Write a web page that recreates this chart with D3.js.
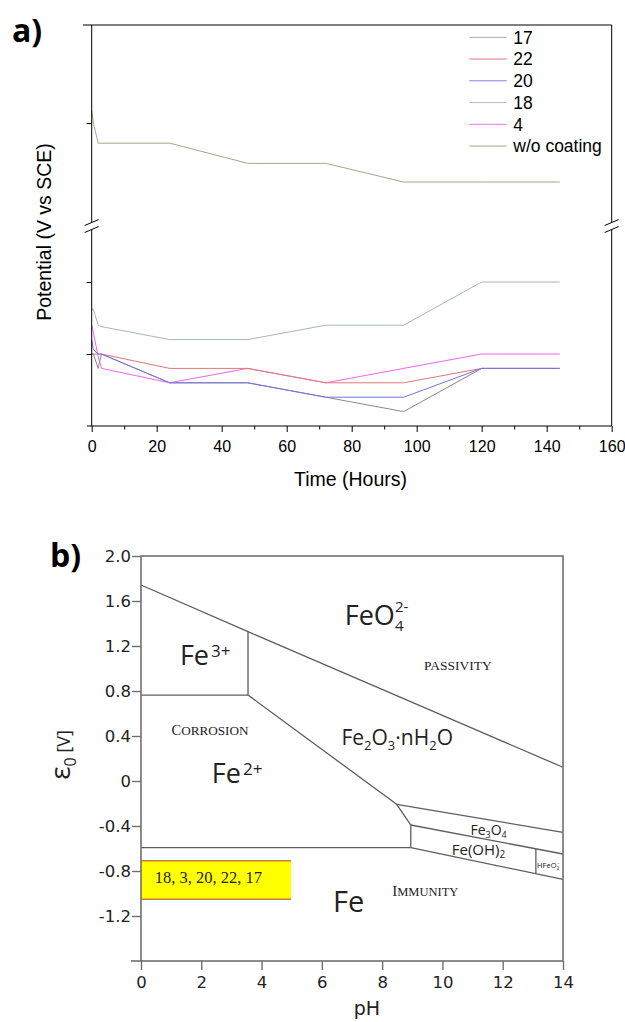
<!DOCTYPE html>
<html><head><meta charset="utf-8">
<script src="https://cdn.jsdelivr.net/npm/d3@7"></script>
<style>body{margin:0;background:#fff} svg{display:block}</style>
</head><body>
<svg id="c" width="625" height="1022"></svg>
<script>
// ---------- Chart a) data ----------
const hours = [0, 0.5, 2, 3, 24, 48, 72, 96, 120, 144];
const seriesNames = ["17", "22", "20", "18", "4", "w/o coating"];
const series17 = [-0.700, -0.700, -0.710, -0.700, -0.720, -0.720, -0.730, -0.740, -0.710, -0.710];
const series22 = [-0.700, -0.700, -0.700, -0.700, -0.710, -0.710, -0.720, -0.720, -0.710, -0.710];
const series20 = [-0.690, -0.697, -0.700, -0.700, -0.720, -0.720, -0.730, -0.730, -0.710, -0.710];
const series18 = [-0.669, -0.669, -0.680, -0.681, -0.690, -0.690, -0.680, -0.680, -0.650, -0.650];
const series4  = [-0.680, -0.685, -0.702, -0.710, -0.720, -0.710, -0.720, -0.710, -0.700, -0.700];
const seriesUncoated = [-0.391, -0.400, -0.414, -0.414, -0.414, -0.428, -0.428, -0.441, -0.441, -0.441];
const xTicksA = [0, 20, 40, 60, 80, 100, 120, 140, 160];
const xMinorTicksA = [10, 30, 50, 70, 90, 110, 130, 150];
const yTicksLow = [-0.70, -0.65];
const yTicksHigh = [-0.40];

// ---------- Chart b) data ----------
const pHTicks = [0, 2, 4, 6, 8, 10, 12, 14];
const eTicks = [-1.2, -0.8, -0.4, 0, 0.4, 0.8, 1.2, 1.6, 2.0];
const eTickLabels = ["-1.2", "-0.8", "-0.4", "0", "0.4", "0.8", "1.2", "1.6", "2.0"];
const lineO2 = [[0, 1.742], [3.55, 1.327], [8.5, 0.756], [14, 0.122]];
const lineFe3Fe2 = [[0, 0.764], [3.55, 0.764]];
const lineFe3Vert = [[3.55, 0.764], [3.55, 1.327]];
const lineFe2Oxide = [[3.55, 0.764], [8.48, -0.207], [8.95, -0.391], [8.95, -0.593]];
const lineFeImm = [[0, -0.593], [8.95, -0.593]];
const lineOxMag = [[8.48, -0.207], [14, -0.456]];
const lineMagHyd = [[8.95, -0.391], [14, -0.649]];
const lineHydFe = [[8.95, -0.593], [14, -0.874]];
const lineHFeO2 = [[13.1, -0.604], [13.1, -0.822]];
const coatingBand = {pH: [0, 4.98], E: [-0.708, -1.052], label: "18, 3, 20, 22, 17"};

const svg = d3.select("#c");

// ================= Chart a =================
const xA = d3.scaleLinear().domain([0, 160]).range([91.7, 611.7]);
const yLow = d3.scaleLinear().domain([-0.75, -0.65]).range([426, 282]);
const yHigh = d3.scaleLinear().domain([-0.40, -0.45]).range([123, 195]);
const fA = "'Liberation Sans', Arial, sans-serif";
const gA = svg.append("g");

const seriesData = {
  "17": {v: series17, c: "#8a8a8a", y: yLow},
  "22": {v: series22, c: "#e07878", y: yLow},
  "20": {v: series20, c: "#7474e4", y: yLow},
  "18": {v: series18, c: "#a6b8b0", y: yLow},
  "4": {v: series4, c: "#ee66ee", y: yLow},
  "w/o coating": {v: seriesUncoated, c: "#a8a488", y: yHigh}
};
const legendColors = {"17": "#a8a8a8", "22": "#e07878", "20": "#8080e8", "18": "#bdbdbd", "4": "#ee77ee", "w/o coating": "#a8a488"};
const drawOrder = ["w/o coating", "17", "18", "4", "22", "20"];
drawOrder.forEach(name => {
  const s = seriesData[name];
  const line = d3.line().x((d, i) => xA(hours[i])).y(d => s.y(d));
  gA.append("path").attr("d", line(s.v)).attr("fill", "none")
    .attr("stroke", s.c).attr("stroke-width", 1);
});

// frame
const yTopA = 25, yBotA = 426, yBreak = 226, gap = 3.5;
gA.append("line").attr("x1", 83).attr("x2", xA(160)).attr("y1", yTopA).attr("y2", yTopA).attr("stroke", "#000");
[xA(0), xA(160)].forEach(x => {
  gA.append("line").attr("x1", x).attr("x2", x).attr("y1", yTopA).attr("y2", yBreak - gap).attr("stroke", "#000");
  gA.append("line").attr("x1", x).attr("x2", x).attr("y1", yBreak + gap).attr("y2", yBotA).attr("stroke", "#000");
  [-gap, gap].forEach(dy => {
    gA.append("line").attr("x1", x - 7).attr("x2", x + 7)
      .attr("y1", yBreak + dy + 3).attr("y2", yBreak + dy - 3).attr("stroke", "#000");
  });
});
gA.append("line").attr("x1", 87).attr("x2", xA(160)).attr("y1", yBotA).attr("y2", yBotA).attr("stroke", "#000");

// x axis
const axA = gA.append("g").attr("transform", `translate(0,${yBotA})`)
  .call(d3.axisBottom(xA).tickValues(xTicksA).tickSize(6).tickPadding(8.5).tickSizeOuter(0));
axA.select(".domain").remove();
axA.selectAll("text").attr("font-family", fA).attr("font-size", 16).attr("fill", "#000");
const axAm = gA.append("g").attr("transform", `translate(0,${yBotA})`)
  .call(d3.axisBottom(xA).tickValues(xMinorTicksA).tickSize(3.5).tickFormat(""));
axAm.select(".domain").remove();

// y ticks
[[yLow, yTicksLow], [yHigh, yTicksHigh]].forEach(([sc, tv]) => {
  const g = gA.append("g").attr("transform", `translate(${xA(0)},0)`)
    .call(d3.axisLeft(sc).tickValues(tv).tickSize(5).tickFormat(""));
  g.select(".domain").remove();
});

// titles
gA.append("text").attr("transform", `translate(51,232) rotate(-90)`)
  .attr("text-anchor", "middle").attr("font-family", fA).attr("font-size", 19.5)
  .text("Potential (V vs SCE)");
gA.append("text").attr("x", 350.5).attr("y", 485.5).attr("text-anchor", "middle")
  .attr("font-family", fA).attr("font-size", 19.5).text("Time (Hours)");
svg.append("text").attr("x", 12).attr("y", 42).attr("font-family", "'Open Sans', sans-serif")
  .attr("font-weight", "bold").attr("font-size", 32).text("a)");

// legend
seriesNames.forEach((name, i) => {
  const y = 37.3 + i * 21.75;
  gA.append("line").attr("x1", 469.3).attr("x2", 506.7).attr("y1", y).attr("y2", y)
    .attr("stroke", legendColors[name]).attr("stroke-width", 1);
  gA.append("text").attr("x", 513.3).attr("y", y + 6.2).attr("font-family", fA)
    .attr("font-size", 17.5).text(name);
});

// ================= Chart b =================
const xB = d3.scaleLinear().domain([0, 14]).range([141, 563]);
const yB = d3.scaleLinear().domain([-1.6, 2.0]).range([961, 556]);
const fB = "'Open Sans', 'Noto Sans', sans-serif";
const fT = "'Liberation Serif', 'Times New Roman', serif";
const gB = svg.append("g");
const axisCol = "#707070";

// coating band
gB.append("rect").attr("x", xB(coatingBand.pH[0])).attr("y", yB(coatingBand.E[0]))
  .attr("width", xB(coatingBand.pH[1]) - xB(coatingBand.pH[0]))
  .attr("height", yB(coatingBand.E[1]) - yB(coatingBand.E[0])).attr("fill", "#ffff00");
coatingBand.E.forEach(e => {
  gB.append("line").attr("x1", xB(coatingBand.pH[0])).attr("x2", xB(coatingBand.pH[1]))
    .attr("y1", yB(e)).attr("y2", yB(e)).attr("stroke", "#d07a3c").attr("stroke-width", 1.5);
});
gB.append("text").attr("x", xB(0.46)).attr("y", yB(-0.904)).attr("font-family", fT)
  .attr("font-size", 16.5).attr("fill", "#222").text(coatingBand.label);

// boundary lines
const lineB = d3.line().x(d => xB(d[0])).y(d => yB(d[1]));
[lineO2, lineFe3Fe2, lineFe3Vert, lineFe2Oxide, lineFeImm, lineOxMag, lineMagHyd, lineHydFe, lineHFeO2]
  .forEach(pts => gB.append("path").attr("d", lineB(pts)).attr("fill", "none")
    .attr("stroke", "#5e5e5e").attr("stroke-width", 1.3));

// frame
gB.append("rect").attr("x", xB(0)).attr("y", yB(2.0)).attr("width", xB(14) - xB(0))
  .attr("height", yB(-1.6) - yB(2.0)).attr("fill", "none").attr("stroke", axisCol).attr("stroke-width", 1.6);
gB.append("line").attr("x1", 131).attr("x2", xB(0)).attr("y1", yB(-1.6)).attr("y2", yB(-1.6))
  .attr("stroke", axisCol).attr("stroke-width", 1.6);

const axBy = gB.append("g").attr("transform", `translate(${xB(0)},0)`)
  .call(d3.axisLeft(yB).tickValues(eTicks).tickSize(9).tickPadding(1)
    .tickFormat((d, i) => eTickLabels[i]));
axBy.select(".domain").remove();
axBy.selectAll("line").attr("stroke", axisCol).attr("stroke-width", 1.4);
axBy.selectAll("text").attr("font-family", "'DejaVu Sans', sans-serif").attr("font-size", 16.5).attr("fill", "#222");

const axBx = gB.append("g").attr("transform", `translate(0,${yB(-1.6)})`)
  .call(d3.axisBottom(xB).tickValues(pHTicks).tickSize(9).tickPadding(6));
axBx.select(".domain").remove();
axBx.selectAll("line").attr("stroke", axisCol).attr("stroke-width", 1.4);
axBx.selectAll("text").attr("font-family", "'DejaVu Sans', sans-serif").attr("font-size", 16.5).attr("fill", "#222");

gB.append("text").attr("x", 367).attr("y", 1015).attr("text-anchor", "middle")
  .attr("font-family", "'DejaVu Sans', sans-serif").attr("font-size", 19).attr("fill", "#222").text("pH");

// y title
const yt = gB.append("text").attr("transform", `translate(70,755) rotate(-90)`)
  .attr("text-anchor", "middle").attr("font-family", fB).attr("fill", "#222");
yt.append("tspan").attr("font-size", 28).text("ε");
yt.append("tspan").attr("font-size", 16).attr("dy", 6).text("0");
yt.append("tspan").attr("font-size", 18).attr("dy", -6).text("  [V]");

svg.append("text").attr("x", 50).attr("y", 567).attr("font-family", "'Open Sans', sans-serif")
  .attr("font-weight", "bold").attr("font-size", 32).text("b)");

// region labels
function chem(x, y, size, parts) {
  const t = gB.append("text").attr("x", xB(x)).attr("y", yB(y)).attr("font-family", fB)
    .attr("font-size", size).attr("fill", "#222");
  parts.forEach(p => {
    const s = t.append("tspan").text(p.t);
    if (p.s) s.attr("font-size", p.s);
    if (p.dy) s.attr("dy", p.dy);
    if (p.dx) s.attr("dx", p.dx);
  });
  return t;
}
chem(6.76, 1.387, 27, [{t: "FeO"}, {t: "4", s: 15, dy: 6}, {t: "2-", s: 15, dy: -19, dx: -8.5}]);
chem(1.29, 1.031, 27, [{t: "Fe"}, {t: "3+", s: 17, dy: -8, dx: 2}]);
chem(2.35, -0.015, 27, [{t: "Fe"}, {t: "2+", s: 17, dy: -8, dx: 2}]);
chem(6.65, 0.32, 21, [{t: "Fe"}, {t: "2", s: 13, dy: 5}, {t: "O", dy: -5}, {t: "3", s: 13, dy: 5}, {t: "·nH", dy: -5}, {t: "2", s: 13, dy: 5}, {t: "O", dy: -5}]);
chem(10.93, -0.48, 14, [{t: "Fe"}, {t: "3", s: 9, dy: 3}, {t: "O", dy: -3}, {t: "4", s: 9, dy: 3}]);
chem(10.31, -0.658, 15, [{t: "Fe(OH)"}, {t: "2", s: 10, dy: 3}]);
chem(13.14, -0.773, 7.5, [{t: "HFeO"}, {t: "2", s: 5, dy: 2}, {t: "-", s: 5, dy: -5, dx: -2}]);
chem(6.37, -1.162, 29, [{t: "Fe"}]);

function caps(x, y, first, rest, s1, s2) {
  const t = gB.append("text").attr("x", xB(x)).attr("y", yB(y)).attr("text-anchor", "middle")
    .attr("font-family", fT).attr("fill", "#222");
  t.append("tspan").attr("font-size", s1).text(first);
  t.append("tspan").attr("font-size", s2).text(rest);
}
caps(10.51, 0.987, "P", "ASSIVITY", 13.5, 13.5);
caps(2.29, 0.41, "C", "ORROSION", 14.5, 13.2);
caps(9.43, -1.022, "I", "MMUNITY", 15, 12.5);
</script>
</body></html>
